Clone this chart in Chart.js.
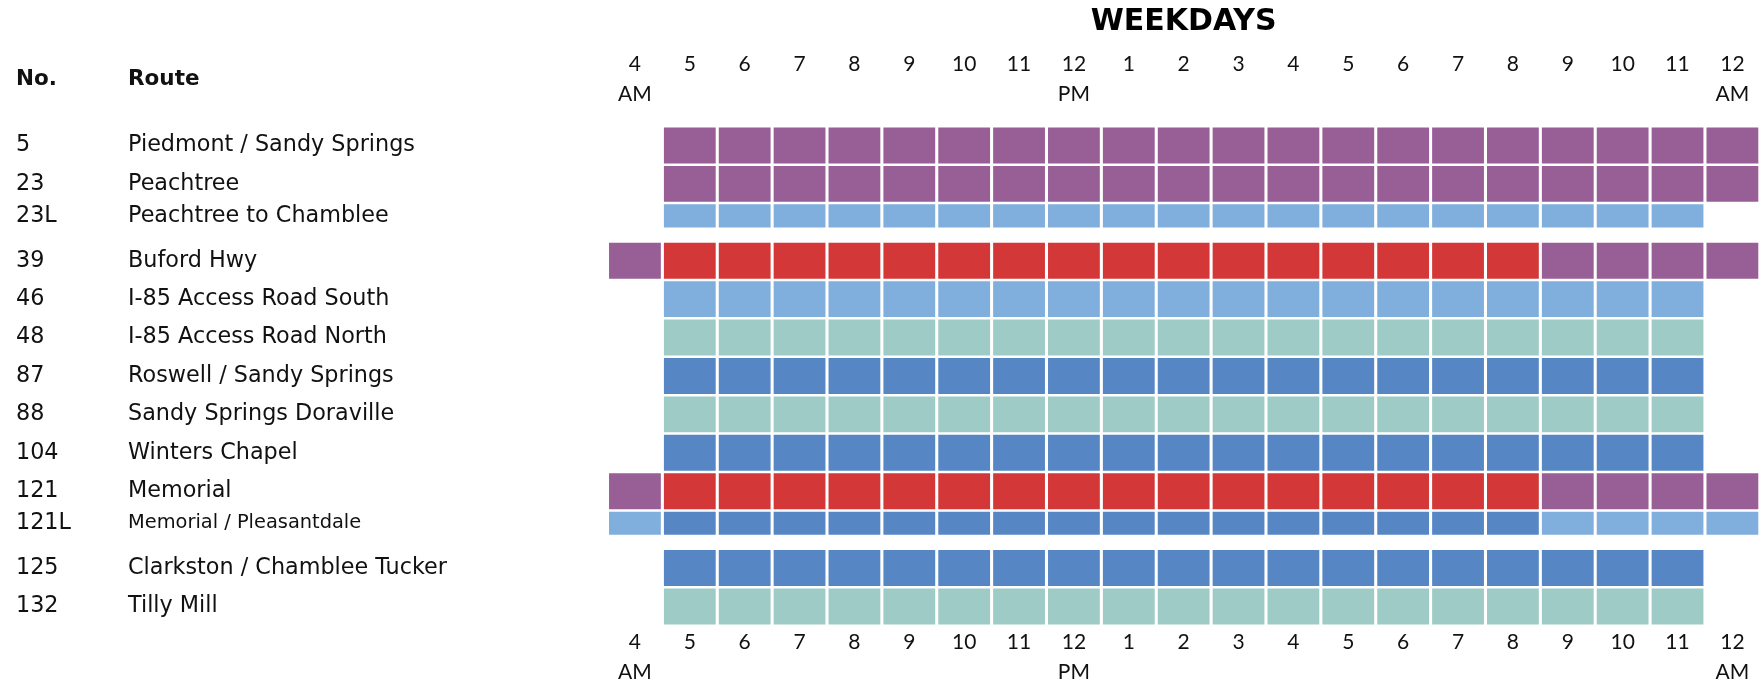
<!DOCTYPE html>
<html><head><meta charset="utf-8">
<script src="https://cdn.jsdelivr.net/npm/chart.js@4"></script>
<style>
html,body{margin:0;padding:0;background:#fff;overflow:hidden;width:1762px;height:684px}
#wrap{position:relative;width:1766px;height:684px}
canvas{display:block}
</style></head><body><div id="wrap"><canvas id="c" width="1766" height="684"></canvas></div>
<script>
// ---- data ----
const hours = ['4','5','6','7','8','9','10','11','12','1','2','3','4','5','6','7','8','9','10','11','12'];
const meridiem = ['AM','','','','','','','','PM','','','','','','','','','','','','AM'];
const routeNumbers = ['5','23','23L','39','46','48','87','88','104','121','121L','125','132'];
const routeNames = ['Piedmont / Sandy Springs','Peachtree','Peachtree to Chamblee','Buford Hwy',
  'I-85 Access Road South','I-85 Access Road North','Roswell / Sandy Springs','Sandy Springs Doraville',
  'Winters Chapel','Memorial','Memorial / Pleasantdale','Clarkston / Chamblee Tucker','Tilly Mill'];
// one character per hour (4 AM ... 12 AM); '.' = no service
const service = [
  '.PPPPPPPPPPPPPPPPPPPP',
  '.PPPPPPPPPPPPPPPPPPPP',
  '.LLLLLLLLLLLLLLLLLLL.',
  'PRRRRRRRRRRRRRRRRPPPP',
  '.LLLLLLLLLLLLLLLLLLL.',
  '.TTTTTTTTTTTTTTTTTTT.',
  '.BBBBBBBBBBBBBBBBBBB.',
  '.TTTTTTTTTTTTTTTTTTT.',
  '.BBBBBBBBBBBBBBBBBBB.',
  'PRRRRRRRRRRRRRRRRPPPP',
  'LBBBBBBBBBBBBBBBBLLLL',
  '.BBBBBBBBBBBBBBBBBBB.',
  '.TTTTTTTTTTTTTTTTTTT.'
];
const levelColors = {P:'#985E96', R:'#D33738', L:'#80AEDD', B:'#5686C4', T:'#9FCBC6'};

// ---- styling helpers ----
const TICK_FONT = 'Lato';
const LABEL_FONT = '"DejaVu Sans"';
const isLimited = i => /L$/.test(routeNumbers[i]);
const barSpan = i => isLimited(i) ? 0.6 : 0.935;

const datasets = routeNumbers.map((no, i) => {
  const codes = service[i].split('');
  return {
    label: no + ' ' + routeNames[i],
    data: codes.map(c => c === '.' ? null : [i, i + barSpan(i)]),
    backgroundColor: codes.map(c => levelColors[c] || 'rgba(0,0,0,0)'),
    borderWidth: 0,
    grouped: false,
    barPercentage: 0.944,
    categoryPercentage: 1
  };
});

const rowLabels = {
  id: 'rowLabels',
  afterDraw(chart) {
    const ctx = chart.ctx, y = chart.scales.y;
    ctx.save();
    ctx.fillStyle = '#111';
    ctx.textBaseline = 'middle';
    ctx.textAlign = 'left';
    ctx.font = 'bold 21.5px ' + LABEL_FONT;
    ctx.fillText('No.', 16, 79);
    ctx.fillText('Route', 128, 79);
    routeNumbers.forEach((n, i) => {
      const cy = y.getPixelForValue(i + barSpan(i) / 2);
      ctx.font = '22.3px ' + LABEL_FONT;
      ctx.fillText(n, 16, cy);
      ctx.font = (n === '121L' ? '19.4px ' : '22.3px ') + LABEL_FONT;
      ctx.fillText(routeNames[i], 128, cy);
    });
    ctx.restore();
  }
};

const tickCfg = {
  autoSkip: false, maxRotation: 0, minRotation: 0,
  color: '#111',
  font: { family: TICK_FONT, size: 21, lineHeight: 30 / 21 },
  callback: (v, i) => [hours[i], meridiem[i]]
};

new Chart(document.getElementById('c'), {
  type: 'bar',
  data: { labels: hours, datasets },
  options: {
    responsive: false,
    animation: false,
    events: [],
    layout: { padding: { left: 607.5, right: 2, top: 0, bottom: 0 } },
    plugins: {
      legend: { display: false },
      tooltip: { enabled: false },
      title: {
        display: true, text: 'WEEKDAYS', fullSize: false, color: '#000',
        font: { family: 'DejaVu Sans', size: 30, weight: 'bold', lineHeight: 1.2 },
        padding: { top: 4, bottom: 0 }
      }
    },
    scales: {
      x: {
        type: 'category', position: 'bottom', offset: true,
        grid: { display: false, drawTicks: false, offset: true },
        border: { display: false },
        ticks: Object.assign({}, tickCfg, { padding: 2 }),
        afterFit: s => { s.height = 59; }
      },
      xTop: {
        type: 'category', position: 'top', offset: true, labels: hours,
        grid: { display: false, drawTicks: false, offset: true },
        border: { display: false },
        ticks: Object.assign({}, tickCfg, { padding: 16.6 }),
        afterFit: s => { s.height = 85.6; }
      },
      y: {
        type: 'linear', reverse: true, min: -0.05, max: 12.95, display: false
      }
    }
  },
  plugins: [rowLabels]
});
</script></body></html>
